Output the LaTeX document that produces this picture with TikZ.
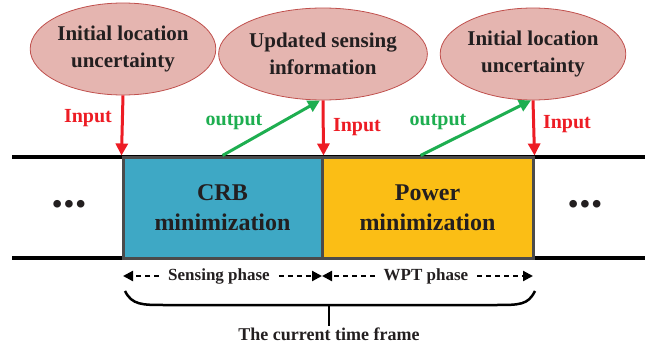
\documentclass[tikz,border=0pt]{standalone}
\usepackage{fontspec}
\setmainfont{Liberation Serif}
\usetikzlibrary{arrows.meta,shapes.geometric}
\definecolor{ellfill}{RGB}{229,181,176}
\definecolor{elldraw}{RGB}{192,80,77}
\definecolor{crbblue}{RGB}{62,168,197}
\definecolor{powyellow}{RGB}{251,190,21}
\definecolor{boxgray}{RGB}{75,75,75}
\definecolor{inred}{RGB}{237,28,36}
\definecolor{outgreen}{RGB}{30,174,80}
\definecolor{txt}{RGB}{35,31,32}
\tikzset{
	info/.style={ellipse, draw=elldraw, fill=ellfill, line width=0.8pt, minimum height=92pt, inner sep=0pt, align=center, text=txt, font=\fontsize{21}{27}\selectfont\bfseries},
	phasebox/.style={draw=boxgray, line width=3pt, minimum height=101pt, align=center, text=txt, font=\fontsize{24}{30}\selectfont\bfseries},
	inarrow/.style={inred, line width=3pt, -{Triangle[length=12pt,width=12pt]}},
	outarrow/.style={outgreen, line width=3pt, -{Triangle[length=12pt,width=12pt]}},
	phasearrow/.style={black, line width=2.2pt, dash pattern=on 5pt off 4pt, -{Triangle[length=10pt,width=10pt]}},
	lbl/.style={font=\fontsize{20}{24}\selectfont\bfseries},
	phaselbl/.style={inner sep=9pt, text=txt, font=\fontsize{17}{20}\selectfont\bfseries},
	dots/.style={text=txt, font=\fontsize{28}{32}\selectfont\bfseries}
}
\begin{document}
\begin{tikzpicture}[x=1pt,y=-1pt]
	\useasboundingbox (0,0) rectangle (657,348);
	% time line
	\coordinate (tl) at (12,157);
	\coordinate (tr) at (645,157);
	\coordinate (bl) at (12,258);
	\coordinate (br) at (645,258);
	\draw[line width=3.5pt] (tl) -- (tr);
	\draw[line width=3.5pt] (bl) -- (br);
	\node[phasebox, fill=crbblue, minimum width=199pt] (crb) at (222.5,207.5) {CRB\\minimization};
	\node[phasebox, fill=powyellow, minimum width=211pt] (pow) at (427.5,207.5) {Power\\minimization};
	\node[dots] (dl) at (69,207) {•\hspace{2pt}•\hspace{2pt}•};
	\node[dots] (dr) at (585,207) {•\hspace{2pt}•\hspace{2pt}•};
	% information
	\node[info, minimum width=174pt] (e1) at (123,49) {Initial location\\uncertainty};
	\node[info, minimum width=202pt] (e2) at (323,54) {Updated sensing\\information};
	\node[info, minimum width=174pt] (e3) at (533,54) {Initial location\\uncertainty};
	\draw[inarrow] (e1.south) -- (crb.north west);
	\draw[inarrow] (e2.south) -- (crb.north east);
	\draw[inarrow] (e3.south) -- (pow.north east);
	\draw[outarrow] (crb.north) -- ([xshift=-3pt]e2.south);
	\draw[outarrow] ([xshift=-7pt]pow.north) -- ([xshift=-2pt]e3.south);
	\node[lbl, text=inred] (in1) at (88,118) {Input};
	\node[lbl, text=inred] (in2) at (357,127) {Input};
	\node[lbl, text=inred] (in3) at (567,124) {Input};
	\node[lbl, text=outgreen] (out1) at (234,122) {output};
	\node[lbl, text=outgreen] (out2) at (438,122) {output};
	% phases
	\coordinate (s0) at (123,276);
	\coordinate (s1) at (322,276);
	\coordinate (s2) at (533,276);
	\node[phaselbl] (sp) at (219,276) {Sensing phase};
	\node[phaselbl] (wp) at (426,276) {WPT phase};
	\draw[phasearrow] (sp.west) -- (s0);
	\draw[phasearrow] (sp.east) -- (s1);
	\draw[phasearrow] (wp.west) -- (s1);
	\draw[phasearrow] (wp.east) -- (s2);
	% frame
	\coordinate (bm) at (329,305);
	\draw[line width=2.5pt] (125,291) .. controls (132,305) and (142,305) .. (165,305) -- (495,305) .. controls (520,305) and (528,305) .. (535,291);
	\node[text=txt, font=\fontsize{18}{22}\selectfont\bfseries] (frame) at (329,334) {The current time frame};
	\draw[line width=2.5pt] (bm) -- ([yshift=-2pt]frame.north);
\end{tikzpicture}
\end{document}
